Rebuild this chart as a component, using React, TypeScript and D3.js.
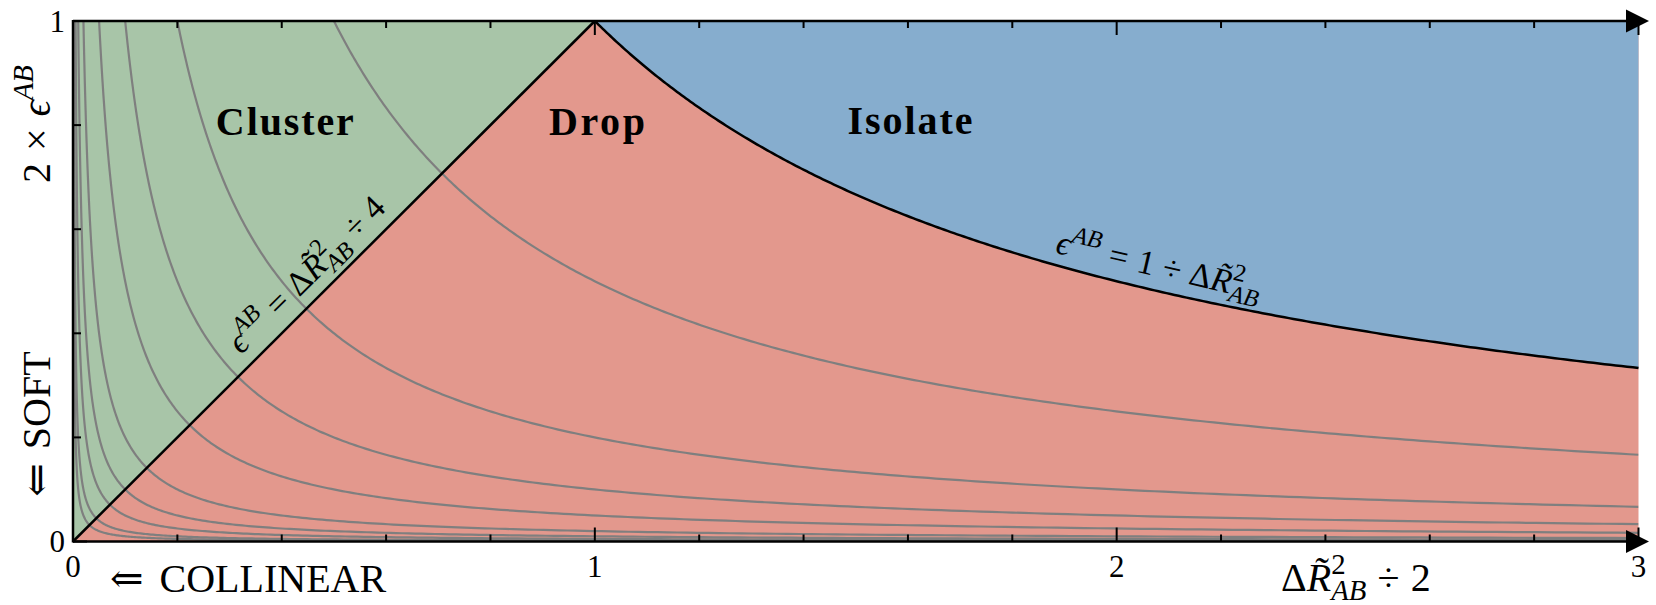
import * as d3 from 'd3';

// axis ticks (data units)
const xMajorTicks = [0, 1, 2, 3];
const xMinorTicks = [0.2, 0.4, 0.6, 0.8, 1.2, 1.4, 1.6, 1.8, 2.2, 2.4, 2.6, 2.8];
const yMajorTicks = [0, 1];
const yMinorTicks = [0.2, 0.4, 0.6, 0.8];
const xTickLabels = ['0', '1', '2', '3'];
const yTickLabels = ['0', '1'];

const contourLevels = [0.5, 0.2, 0.1, 0.05, 0.02, 0.01, 0.005, 0.002, 0.001];
// black boundary between Drop and Isolate: y = 1 / x
const boundaryLevel = 1;

const regionNames = ['Cluster', 'Drop', 'Isolate'];

const SERIF = '"Liberation Serif", "DejaVu Serif", serif';

// tiny math typesetter: each segment has text, italic flag, scale,
// baseline shift (em, +down) and extra left gap (em)
type Seg = { t: string; it?: boolean; sc?: number; sh?: number; dx?: number };

const SUP = -0.42;
const SUB = 0.22;
const S = 0.72;

const epsAB: Seg[] = [
  { t: 'ϵ', it: true },
  { t: 'AB', it: true, sc: S, sh: SUP },
];
const dR2: Seg[] = [
  { t: 'Δ' },
  { t: 'R\u0303', it: true },
  { t: '2', sc: S, sh: SUP },
  { t: 'AB', it: true, sc: S, sh: SUB, dx: -0.36 },
];

function withGap(segs: Seg[], gap: number): Seg[] {
  return segs.map((s, i) => (i === 0 ? { ...s, dx: (s.dx || 0) + gap } : s));
}

function MathText({ segs, fs }: { segs: Seg[]; fs: number }) {
  let cur = 0;
  return (
    <>
      {segs.map((s, i) => {
        const sh = (s.sh || 0) * fs;
        const dy = sh - cur;
        cur = sh;
        return (
          <tspan
            key={i}
            dx={(s.dx || 0) * fs}
            dy={dy}
            fontSize={(s.sc || 1) * fs}
            fontStyle={s.it ? 'italic' : 'normal'}
          >
            {s.t}
          </tspan>
        );
      })}
    </>
  );
}

export default function App() {
  const W = 1656;
  const H = 605;

  const x = d3.scaleLinear().domain([0, 3]).range([73, 1638.5]);
  const y = d3.scaleLinear().domain([0, 1]).range([541.5, 21]);
  const line = d3
    .line<[number, number]>()
    .x((d) => x(d[0]))
    .y((d) => y(d[1]));

  // sample y = k/x geometrically between x0 and x1
  const hyper = (k: number, x0: number, x1: number, n = 300): [number, number][] =>
    d3.range(n + 1).map((i) => {
      const t = x0 * Math.pow(x1 / x0, i / n);
      return [t, k / t];
    });

  const greenPoly: [number, number][] = [[0, 0], [1, 1], [0, 1]];
  const bluePoly: [number, number][] = [
    ...hyper(boundaryLevel, 1, 3),
    [3, 1],
    [1, 1],
  ];

  const left = x(0);
  const right = x(3);
  const top = y(1);
  const bottom = y(0);
  const arrowEnd = 1649;
  const arrowBase = 1626;
  const arrowHalf = 11.5;

  // annotation anchors
  const diagX = 0.48;
  const diagAngle = (Math.atan2(y(1) - y(0), x(1) - x(0)) * 180) / Math.PI;
  const curveX = 2.07;
  const curveSlope = ((y(0) - y(1)) / (x(1) - x(0))) / (curveX * curveX);
  const curveAngle = (Math.atan(curveSlope) * 180) / Math.PI;

  const regionPos = [
    { x: 0.406, y: 0.781, w: 138 },
    { x: 1.004, y: 0.781, w: 96 },
    { x: 1.604, y: 0.783, w: 125 },
  ];

  const fsTick = 31;
  const fsAxis = 40;
  const fsNote = 34;

  const xLabel: Seg[] = [...dR2, { t: '÷', dx: 0.28 }, { t: '2', dx: 0.28 }];
  const yLabel: Seg[] = [{ t: '2' }, { t: '×', dx: 0.3 }, ...withGap(epsAB, 0.3)];
  const diagNote: Seg[] = [
    ...epsAB,
    { t: '=', dx: 0.28 },
    ...withGap(dR2, 0.28),
    { t: '÷', dx: 0.24 },
    { t: '4', dx: 0.24 },
  ];
  const curveNote: Seg[] = [
    ...epsAB,
    { t: '=', dx: 0.3 },
    { t: '1', dx: 0.3 },
    { t: '÷', dx: 0.26 },
    ...withGap(dR2, 0.26),
  ];

  return (
    <svg
      width={W}
      height={H}
      viewBox={`0 0 ${W} ${H}`}
      style={{ position: 'absolute', left: 0, top: 0, background: '#fff' }}
      fontFamily={SERIF}
    >
      <defs>
        <clipPath id="plotclip">
          <rect x={left} y={top} width={right - left} height={bottom - top} />
        </clipPath>
      </defs>

      {/* regions */}
      <rect x={left} y={top} width={right - left} height={bottom - top} fill="#e3988d" />
      <path d={line(greenPoly) + 'Z'} fill="#a8c5a8" />
      <path d={line(bluePoly) + 'Z'} fill="#86adce" />

      {/* grey iso-lines */}
      <g clipPath="url(#plotclip)" fill="none" stroke="#7f7f7f" strokeWidth={2.2}>
        {contourLevels.map((k) => (
          <path key={k} d={line(hyper(k, k, 3)) || ''} />
        ))}
      </g>

      {/* black boundaries */}
      <g fill="none" stroke="#000" strokeWidth={2.5}>
        <path d={line([[0, 0], [1, 1]]) || ''} />
        <path d={line(hyper(boundaryLevel, 1, 3)) || ''} />
      </g>

      {/* spines */}
      <g stroke="#000" strokeWidth={2.5}>
        <line x1={left} x2={left} y1={top - 1} y2={bottom + 1} />
        <line x1={left} x2={arrowBase + 2} y1={top} y2={top} />
        <line x1={left} x2={arrowBase + 2} y1={bottom} y2={bottom} />
      </g>
      <polygon
        points={`${arrowBase},${top - arrowHalf} ${arrowEnd},${top} ${arrowBase},${top + arrowHalf}`}
        fill="#000"
      />
      <polygon
        points={`${arrowBase},${bottom - arrowHalf} ${arrowEnd},${bottom} ${arrowBase},${bottom + arrowHalf}`}
        fill="#000"
      />

      {/* ticks */}
      <g stroke="#000" strokeWidth={2}>
        {xMajorTicks.map((t) => (
          <g key={'xM' + t}>
            <line x1={x(t)} x2={x(t)} y1={bottom} y2={bottom - 14} />
            <line x1={x(t)} x2={x(t)} y1={top} y2={top + 14} />
          </g>
        ))}
        {xMinorTicks.map((t) => (
          <g key={'xm' + t}>
            <line x1={x(t)} x2={x(t)} y1={bottom} y2={bottom - 7} />
            <line x1={x(t)} x2={x(t)} y1={top} y2={top + 7} />
          </g>
        ))}
        {yMajorTicks.map((t) => (
          <line key={'yM' + t} x1={left} x2={left + 14} y1={y(t)} y2={y(t)} />
        ))}
        {yMinorTicks.map((t) => (
          <line key={'ym' + t} x1={left} x2={left + 8} y1={y(t)} y2={y(t)} />
        ))}
      </g>

      {/* tick labels */}
      <g fontSize={fsTick} fill="#000">
        {xMajorTicks.map((t, i) => (
          <text key={'xl' + t} x={x(t)} y={577} textAnchor="middle">
            {xTickLabels[i]}
          </text>
        ))}
        {yMajorTicks.map((t, i) => (
          <text key={'yl' + t} x={65} y={y(t) + 10.5} textAnchor="end">
            {yTickLabels[i]}
          </text>
        ))}
      </g>

      {/* axis labels */}
      <g fontSize={fsAxis} fill="#000">
        <text x={110} y={592}>
          <tspan>⇐</tspan>
          <tspan dx={0.4 * fsAxis}>COLLINEAR</tspan>
        </text>
        <text x={1281} y={591}>
          <MathText segs={xLabel} fs={fsAxis} />
        </text>
        <text transform="translate(50,124) rotate(-90)" textAnchor="middle">
          <MathText segs={yLabel} fs={fsAxis} />
        </text>
        <text transform="translate(50,424) rotate(-90)" textAnchor="middle">
          <tspan>⇐</tspan>
          <tspan dx={0.35 * fsAxis}>SOFT</tspan>
        </text>
      </g>

      {/* region names */}
      <g fontSize={40} fontWeight="bold" fill="#000">
        {regionNames.map((n, i) => (
          <text
            key={n}
            x={x(regionPos[i].x)}
            y={y(regionPos[i].y)}
            textAnchor="middle"
            textLength={regionPos[i].w}
            lengthAdjust="spacing"
          >
            {n}
          </text>
        ))}
      </g>

      {/* boundary annotations */}
      <g fontSize={fsNote} fill="#000">
        <text
          transform={`translate(${x(diagX)},${y(diagX)}) rotate(${diagAngle}) translate(0,-13)`}
          textAnchor="middle"
        >
          <MathText segs={diagNote} fs={fsNote} />
        </text>
        <text
          transform={`translate(${x(curveX)},${y(boundaryLevel / curveX)}) rotate(${curveAngle}) translate(0,-14)`}
          textAnchor="middle"
        >
          <MathText segs={curveNote} fs={fsNote} />
        </text>
      </g>
    </svg>
  );
}
